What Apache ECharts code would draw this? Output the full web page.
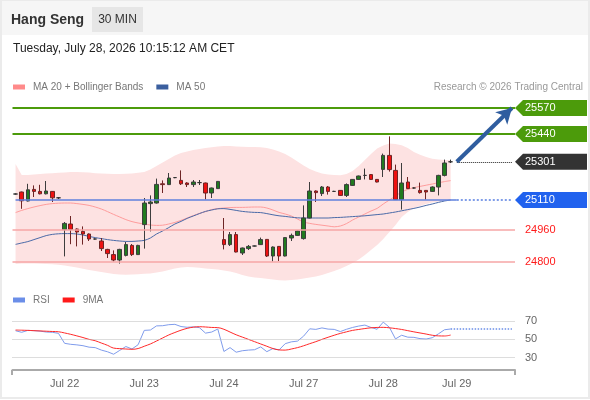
<!DOCTYPE html>
<html>
<head>
<meta charset="utf-8">
<script src="https://cdn.jsdelivr.net/npm/echarts@6/dist/echarts.min.js"></script>
<style>
html, body { margin: 0; padding: 0; background: #fff; }
#chart { width: 590px; height: 400px; }
</style>
</head>
<body>
<div id="chart"></div>
<script>
// x slots: 72 candles + empty room on the right for the projection
const slotCount = 82
const tickIndex = [8, 21, 34, 47, 60, 72]
const tickLabels = ['Jul 22', 'Jul 23', 'Jul 24', 'Jul 27', 'Jul 28', 'Jul 29']

// [open, close, low, high]
const ohlc = [
    [25140, 25140, 25137, 25143], [25150, 25106, 25066, 25152], [25105, 25161, 25103, 25191], [25163, 25153, 25125, 25183],
    [25153, 25141, 25138, 25186], [25141, 25155, 25138, 25205], [25153, 25121, 25100, 25155], [25121, 25121, 25115, 25125],
    [24962, 24993, 24828, 25000], [24990, 24963, 24889, 25030], [24965, 24950, 24878, 24968], [24953, 24940, 24887, 24978],
    [24940, 24915, 24905, 24943], [24915, 24915, 24912, 24918], [24905, 24867, 24855, 24920], [24863, 24842, 24820, 24866],
    [24837, 24810, 24803, 24858], [24810, 24863, 24792, 24866], [24833, 24887, 24828, 24900], [24883, 24837, 24830, 24890],
    [24837, 24883, 24835, 24886], [24987, 25095, 24867, 25120], [25092, 25100, 24953, 25133], [25095, 25188, 25092, 25217],
    [25191, 25187, 25145, 25208], [25187, 25220, 25185, 25245], [25222, 25222, 25219, 25225], [25208, 25191, 25185, 25258],
    [25195, 25187, 25175, 25199], [25187, 25200, 25175, 25210], [25197, 25197, 25185, 25210], [25195, 25145, 25113, 25197],
    [25145, 25170, 25120, 25172], [25167, 25203, 25165, 25205], [24912, 24887, 24863, 25020], [24887, 24937, 24880, 24950],
    [24937, 24850, 24848, 24950], [24845, 24870, 24835, 24872], [24867, 24878, 24860, 24885], [24880, 24880, 24878, 24882],
    [24887, 24912, 24885, 24922], [24913, 24830, 24825, 24915], [24830, 24875, 24803, 24878], [24878, 24830, 24805, 24880],
    [24830, 24922, 24828, 24924], [24920, 24933, 24905, 24942], [24933, 24955, 24930, 24957], [24917, 25020, 24912, 25083],
    [25020, 25155, 25018, 25200], [25155, 25147, 25100, 25158], [25142, 25175, 25130, 25180], [25175, 25153, 25137, 25180],
    [25153, 25153, 25150, 25156], [25158, 25133, 25131, 25160], [25133, 25187, 25125, 25193], [25183, 25213, 25180, 25215],
    [25213, 25230, 25210, 25232], [25233, 25233, 25213, 25267], [25237, 25213, 25211, 25240], [25213, 25200, 25198, 25215],
    [25263, 25333, 25225, 25342], [25333, 25262, 25252, 25428], [25258, 25112, 25110, 25287], [25112, 25195, 25062, 25295],
    [25200, 25167, 25165, 25225], [25170, 25170, 25167, 25173], [25158, 25147, 25142, 25197], [25158, 25150, 25112, 25160],
    [25153, 25175, 25150, 25178], [25175, 25233, 25133, 25236], [25233, 25295, 25228, 25312], [25301, 25301, 25295, 25312]
]

const bbUpper = [
    25290, 25235, 25235, 25238, 25240, 25242, 25244, 25246, 25248, 25250, 25250, 25249, 25247, 25244, 25242, 25241,
    25240, 25240, 25241, 25243, 25246, 25250, 25262, 25280, 25298, 25315, 25333, 25345, 25353, 25360, 25365, 25370,
    25374, 25377, 25380, 25380, 25378, 25376, 25375, 25375, 25374, 25370, 25362, 25352, 25340, 25322, 25303, 25283,
    25265, 25252, 25243, 25238, 25235, 25234, 25240, 25255, 25280, 25310, 25340, 25368, 25382, 25392, 25390, 25384,
    25370, 25350, 25336, 25325, 25316, 25312, 25310, 25310
]
const bbLower = [
    24790, 24792, 24792, 24792, 24791, 24790, 24789, 24786, 24782, 24777, 24772, 24766, 24760, 24755, 24750, 24745,
    24740, 24737, 24736, 24737, 24739, 24741, 24743, 24747, 24752, 24760, 24768, 24773, 24775, 24774, 24771, 24768,
    24765, 24762, 24758, 24752, 24745, 24735, 24727, 24723, 24720, 24716, 24712, 24709, 24708, 24710, 24713, 24717,
    24722, 24728, 24735, 24745, 24755, 24766, 24780, 24795, 24812, 24835, 24860, 24885, 24915, 24950, 24985, 25025,
    25050, 25070, 25080, 25090, 25097, 25102, 25106, 25108
]
const ma20 = [
    25047, 25058, 25067, 25075, 25082, 25088, 25092, 25094, 25095, 25095, 25092, 25088, 25083, 25075, 25065, 25052,
    25038, 25025, 25012, 25002, 24995, 24990, 24985, 24983, 24984, 24990, 24998, 25008, 25020, 25032, 25043, 25052,
    25062, 25067, 25070, 25072, 25073, 25073, 25074, 25075, 25075, 25070, 25060, 25048, 25040, 25030, 25015, 25000,
    24993, 24988, 24984, 24980, 24976, 24980, 24992, 25010, 25025, 25040, 25055, 25068, 25090, 25110, 25130, 25150,
    25163, 25172, 25178, 25184, 25190, 25196, 25202, 25207
]
const ma50 = [
    24888, 24895, 24902, 24912, 24922, 24932, 24938, 24941, 24942, 24942, 24940, 24935, 24928, 24922, 24917, 24912,
    24908, 24905, 24903, 24903, 24905, 24908, 24920, 24940, 24955, 24972, 24990, 25003, 25018, 25030, 25042, 25053,
    25060, 25066, 25067, 25063, 25058, 25053, 25050, 25048, 25047, 25042, 25036, 25031, 25028, 25024, 25021, 25020,
    25020, 25020, 25020, 25020, 25022, 25023, 25025, 25027, 25029, 25031, 25034, 25037, 25040, 25045, 25050, 25056,
    25062, 25068, 25075, 25083, 25090, 25098, 25105, 25110
]
const rsi = [
    59.4, 57.7, 59.8, 59.5, 59.0, 58.0, 57.7, 56.6, 45.7, 44.6, 44.0, 43.1, 41.5, 41.0, 38.3, 36.5,
    33.8, 38.0, 42.2, 39.5, 44.2, 59.8, 60.2, 64.7, 64.9, 66.0, 66.4, 64.0, 63.2, 63.6, 62.8, 56.8,
    58.0, 61.3, 36.8, 41.0, 36.0, 37.6, 38.3, 38.7, 41.8, 36.6, 40.0, 38.5, 45.3, 47.3, 48.1, 53.5,
    61.5, 60.9, 62.5, 61.2, 60.9, 58.5, 61.0, 63.0, 64.5, 65.6, 63.0, 61.0, 68.8, 63.2, 50.5, 54.5,
    52.4, 52.2, 50.8, 50.4, 51.8, 56.0, 60.5, 61.3
]
const rsiMa = [
    60.2, 60.0, 59.8, 59.5, 59.2, 58.9, 58.6, 58.3, 57.0, 55.5, 53.8, 52.0, 50.0, 48.5, 46.0, 43.5,
    40.5, 39.9, 39.5, 39.2, 40.0, 42.5, 45.0, 48.2, 51.5, 54.8, 57.5, 60.0, 62.0, 63.3, 63.8, 63.5,
    63.0, 62.8, 61.0, 58.0, 55.0, 52.5, 50.0, 47.5, 45.0, 42.5, 40.0, 38.5, 38.3, 39.5, 41.0, 43.0,
    45.3, 47.5, 50.0, 52.3, 54.5, 56.5, 58.2, 59.8, 60.8, 61.8, 62.6, 63.0, 63.1, 62.6, 61.8, 60.8,
    59.5, 58.2, 57.0, 55.8, 54.5, 53.8, 53.7, 54.7
]
const rsiLevels = [70, 50, 30]

const resistances = [25570, 25440]
const pivot = 25110
const supports = [24960, 24800]
const lastPrice = 25301

const FONT = '"Liberation Sans", Arial, sans-serif'
const GREEN = '#4c9b0b'

const categories = []
for (let i = 0; i < slotCount; i++) {
    const k = tickIndex.indexOf(i)
    categories.push(k >= 0 ? tickLabels[k] : '')
}
const lastIdx = ohlc.length - 1
const bandDiff = bbUpper.map((u, i) => u - bbLower[i])

const chart = echarts.init(document.getElementById('chart'))

const legendText = { color: '#777', fontSize: 10, fontFamily: FONT, padding: [0, 0, 0, 3] }

const option = {
    animation: false,
    backgroundColor: '#fff',
    textStyle: { fontFamily: FONT },
    legend: [
        {
            left: 13, top: 82, padding: 0, icon: 'rect', itemWidth: 12, itemHeight: 5, itemGap: 13,
            selectedMode: false, textStyle: legendText,
            data: [
                { name: 'MA 20 + Bollinger Bands', itemStyle: { color: '#ff8a8a' } },
                { name: 'MA 50', itemStyle: { color: '#3b5f9e' } }
            ]
        },
        {
            left: 13, top: 295, padding: 0, icon: 'rect', itemWidth: 12, itemHeight: 5, itemGap: 13,
            selectedMode: false, textStyle: legendText,
            data: [
                { name: 'RSI', itemStyle: { color: '#6b8ee8' } },
                { name: '9MA', itemStyle: { color: '#ff1a1a' } }
            ]
        }
    ],
    grid: [
        { left: 12.5, right: 75, top: 90, height: 194 },
        { left: 12.5, right: 75, top: 307, height: 63 }
    ],
    xAxis: [
        { type: 'category', gridIndex: 0, data: categories, show: false },
        {
            type: 'category', gridIndex: 1, data: categories,
            axisLine: { lineStyle: { color: '#aaa', width: 2 } },
            axisTick: { show: false },
            axisLabel: { interval: 0, color: '#666', fontSize: 11, margin: 8, fontFamily: FONT }
        }
    ],
    yAxis: [
        { type: 'value', gridIndex: 0, min: 24690, max: 25660, show: false, splitLine: { show: false } },
        { type: 'value', gridIndex: 1, min: 16.6, max: 85.3, show: false, splitLine: { show: false } }
    ],
    series: [
        {
            name: 'bbLower', type: 'line', data: bbLower, stack: 'bb', symbol: 'none',
            lineStyle: { opacity: 0 }, silent: true, z: 1
        },
        {
            name: 'bbBand', type: 'line', data: bandDiff, stack: 'bb', symbol: 'none',
            lineStyle: { opacity: 0 }, areaStyle: { color: '#fde2e2', opacity: 1 }, silent: true, z: 1
        },
        {
            name: 'MA 20 + Bollinger Bands', type: 'line', data: ma20, symbol: 'none', smooth: 0.3,
            lineStyle: { color: '#ff9c9c', width: 1 }, itemStyle: { color: '#ff8a8a' }, z: 2
        },
        {
            name: 'MA 50', type: 'line', data: ma50, symbol: 'none', smooth: 0.3,
            lineStyle: { color: '#4a6aa8', width: 1 }, itemStyle: { color: '#3b5f9e' }, z: 2
        },
        {
            name: 'Hang Seng', type: 'candlestick', data: ohlc, barWidth: 4, z: 4,
            itemStyle: {
                color: '#217a1f', color0: '#ee1111',
                borderColor: '#3d3d3d', borderColor0: '#6e2525', borderColorDoji: '#333',
                borderWidth: 1
            },
            markLine: {
                silent: true, symbol: 'none', label: { show: false }, animation: false,
                data: [
                    ...resistances.map(v => ({ yAxis: v, lineStyle: { color: GREEN, width: 2, type: 'solid' } })),
                    ...supports.map(v => ({ yAxis: v, lineStyle: { color: '#f6a6a6', width: 1.5, type: 'solid' } })),
                    [
                        { xAxis: lastIdx + 1, yAxis: pivot, lineStyle: { color: '#7f9de8', width: 2, type: 'dotted' } },
                        { xAxis: slotCount - 1, yAxis: pivot }
                    ],
                    [
                        { xAxis: 0, yAxis: pivot, lineStyle: { color: '#5f80dc', width: 1.6, type: 'solid' } },
                        { xAxis: lastIdx + 1, yAxis: pivot }
                    ],
                    [
                        { xAxis: lastIdx + 1, yAxis: lastPrice, lineStyle: { color: '#222', width: 1, type: 'dotted' } },
                        { xAxis: slotCount - 1, yAxis: lastPrice }
                    ],
                    [
                        {
                            xAxis: lastIdx + 1, yAxis: lastPrice, symbol: 'none',
                            lineStyle: { color: '#2f5d9f', width: 4, type: 'solid' }
                        },
                        { xAxis: slotCount - 1, yAxis: resistances[0], symbol: 'arrow', symbolSize: [13, 15] }
                    ]
                ]
            }
        },
        {
            name: 'RSI', type: 'line', xAxisIndex: 1, yAxisIndex: 1, data: rsi, symbol: 'none',
            lineStyle: { color: '#7f9cec', width: 1 }, itemStyle: { color: '#6b8ee8' }, z: 3,
            markLine: {
                silent: true, symbol: 'none', label: { show: false },
                data: [[
                    { xAxis: lastIdx, yAxis: rsi[lastIdx], lineStyle: { color: '#6b8ee8', width: 1.5, type: 'dotted' } },
                    { xAxis: slotCount - 1, yAxis: rsi[lastIdx] }
                ]]
            }
        },
        {
            name: '9MA', type: 'line', xAxisIndex: 1, yAxisIndex: 1, data: rsiMa, symbol: 'none', smooth: 0.4,
            lineStyle: { color: '#ff2a2a', width: 1 }, itemStyle: { color: '#ff1a1a' }, z: 3,
            markLine: {
                silent: true, symbol: 'none',
                lineStyle: { color: '#bbb', width: 1, type: 'dotted' },
                label: { show: true, position: 'end', distance: 10, color: '#666', fontSize: 11, fontFamily: FONT, formatter: '{c}' },
                data: rsiLevels.map(v => ({ yAxis: v }))
            }
        }
    ]
}
chart.setOption(option)

// right-hand price tags, placed through the price axis
function priceTag(value, fill, textColor) {
    const y = chart.convertToPixel({ yAxisIndex: 0 }, value)
    const els = []
    if (fill) {
        els.push({
            type: 'polygon', z: 10,
            shape: { points: [[515, y], [523, y - 8], [587, y - 8], [587, y + 8], [523, y + 8]] },
            style: { fill }
        })
    }
    els.push({
        type: 'text', z: 11, x: 525, y: y,
        style: { text: String(value), fill: textColor, fontSize: 11, fontFamily: FONT, verticalAlign: 'middle' }
    })
    return els
}

const axisY = 370
chart.setOption({
    graphic: [
        { type: 'rect', z: 0, shape: { x: 0, y: 0, width: 590, height: 35 }, style: { fill: '#f6f6f6' } },
        {
            type: 'text', x: 11, y: 20,
            style: { text: 'Hang Seng', fill: '#333', fontSize: 14, fontWeight: 'bold', fontFamily: FONT, verticalAlign: 'middle' }
        },
        { type: 'rect', shape: { x: 92, y: 7, width: 51, height: 25 }, style: { fill: '#e6e6e6' } },
        {
            type: 'text', x: 117.5, y: 20,
            style: { text: '30 MIN', fill: '#333', fontSize: 12, fontFamily: FONT, align: 'center', verticalAlign: 'middle' }
        },
        {
            type: 'text', x: 13, y: 49,
            style: { text: 'Tuesday, July 28, 2026 10:15:12 AM CET', fill: '#222', fontSize: 12, fontFamily: FONT, verticalAlign: 'middle' }
        },
        {
            type: 'text', x: 583, y: 87,
            style: { text: 'Research \u00a9 2026 Trading Central', fill: '#999', fontSize: 10, fontFamily: FONT, align: 'right', verticalAlign: 'middle' }
        },
        { type: 'line', shape: { x1: 12, y1: axisY, x2: 12, y2: axisY + 5 }, style: { stroke: '#aaa', lineWidth: 2 } },
        { type: 'line', shape: { x1: 515, y1: axisY, x2: 515, y2: axisY + 5 }, style: { stroke: '#aaa', lineWidth: 2 } },
        ...resistances.flatMap(v => priceTag(v, GREEN, '#fff')),
        ...priceTag(lastPrice, '#333', '#fff'),
        ...priceTag(pivot, '#2162ee', '#fff'),
        ...supports.flatMap(v => priceTag(v, null, '#ff1a1a')),
        {
            type: 'rect', z: 20, silent: true,
            shape: { x: 1, y: 0, width: 588, height: 398 },
            style: { fill: 'none', stroke: '#ebebeb', lineWidth: 2 }
        }
    ]
})

window.addEventListener('resize', () => chart.resize())
</script>
</body>
</html>
